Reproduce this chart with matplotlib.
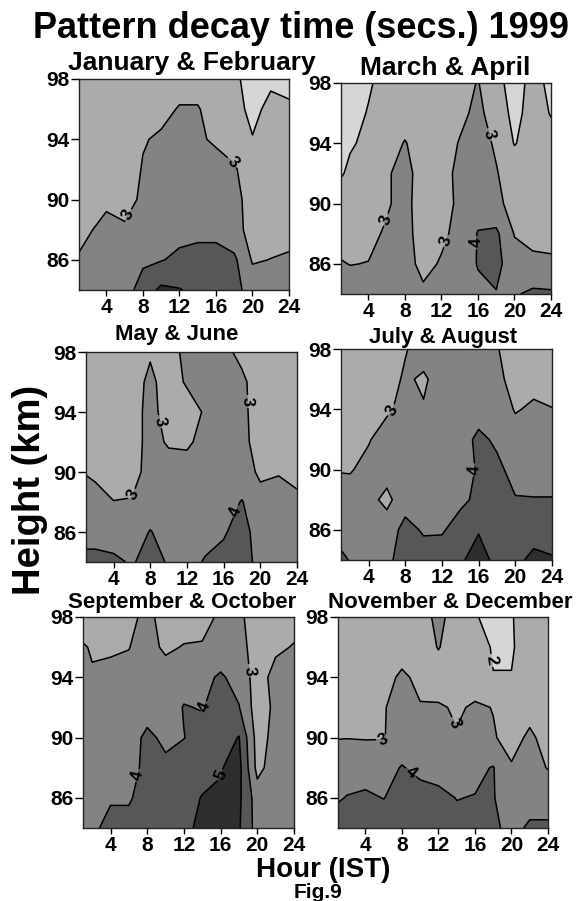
import numpy as np
import matplotlib
matplotlib.use("Agg")
import matplotlib.pyplot as plt

plt.rcParams['font.family'] = ['Liberation Sans', 'DejaVu Sans']
plt.rcParams['font.weight'] = 'bold'

hours = [1, 2, 4, 6, 8, 10, 12, 14, 16, 18, 20, 22, 24]
heights = [84, 86, 88, 90, 92, 94, 96, 98]

# pattern decay time (secs.), one row per height, lowest height first
jan_feb = [
    [3.5, 3.5, 3.5, 3.5, 4.5, 5.2, 5.05, 4.8, 4.6, 4.3, 3.6, 3.5, 3.4],
    [3.1, 3.3, 3.4, 3.4, 3.8, 3.95, 4.2, 4.4, 4.4, 4.2, 2.9, 3.02, 3.15],
    [2.7, 2.9, 3.3, 3.15, 3.5, 3.6, 3.7, 3.7, 3.7, 3.3, 2.7, 2.6, 2.6],
    [2.6, 2.6, 2.8, 2.6, 3.2, 3.5, 3.5, 3.5, 3.5, 3.3, 2.6, 2.5, 2.5],
    [2.5, 2.5, 2.5, 2.6, 3.05, 3.4, 3.5, 3.5, 3.4, 3.1, 2.5, 2.4, 2.3],
    [2.4, 2.4, 2.4, 2.5, 2.95, 3.1, 3.3, 3.15, 2.85, 2.6, 2.05, 2.1, 2.2],
    [2.4, 2.4, 2.4, 2.5, 2.7, 2.8, 3.05, 3.05, 2.7, 2.4, 1.7, 2.3, 2.1],
    [2.4, 2.4, 2.4, 2.5, 2.6, 2.7, 2.7, 2.7, 2.5, 2.2, 1.6, 1.8, 1.8],
]
mar_apr = [
    [3.4, 3.4, 3.5, 3.6, 3.6, 3.2, 3.5, 3.5, 3.8, 3.95, 3.9, 4.2, 4.15],
    [3.05, 2.98, 3.02, 3.3, 3.4, 2.7, 3.1, 3.5, 4.05, 4.3, 3.4, 3.15, 3.1],
    [2.7, 2.7, 2.8, 3.1, 3.3, 2.6, 2.8, 3.3, 4.05, 4.2, 2.95, 2.8, 2.8],
    [2.6, 2.6, 2.6, 2.9, 3.3, 2.5, 2.6, 3.2, 3.6, 3.2, 2.7, 2.6, 2.6],
    [1.9, 2.2, 2.5, 2.9, 3.3, 2.6, 2.7, 3.2, 3.5, 3.05, 2.6, 2.5, 2.4],
    [1.7, 1.9, 2.2, 2.6, 3.05, 2.6, 2.6, 3.05, 3.3, 2.9, 1.95, 2.4, 2.3],
    [1.6, 1.7, 2.05, 2.5, 2.6, 2.6, 2.6, 2.8, 3.2, 2.6, 1.7, 2.4, 1.95],
    [1.5, 1.6, 1.9, 2.3, 2.5, 2.5, 2.5, 2.6, 3.05, 2.3, 1.6, 2.3, 1.8],
]
may_jun = [
    [4.3, 4.3, 4.2, 3.9, 4.4, 3.9, 3.6, 4.1, 4.3, 4.4, 3.7, 3.6, 3.6],
    [3.6, 3.6, 3.5, 3.5, 4.05, 3.6, 3.5, 3.6, 3.9, 4.4, 3.5, 3.5, 3.5],
    [3.4, 3.3, 3.02, 3.05, 3.4, 3.5, 3.5, 3.5, 3.6, 4.05, 3.3, 3.2, 3.15],
    [2.95, 2.85, 2.6, 2.7, 3.3, 3.4, 3.4, 3.5, 3.5, 3.4, 2.85, 2.97, 2.8],
    [2.5, 2.5, 2.5, 2.6, 3.3, 2.9, 2.85, 3.3, 3.5, 3.2, 2.7, 2.6, 2.6],
    [2.4, 2.4, 2.5, 2.6, 3.3, 2.6, 2.6, 3.1, 3.5, 3.2, 2.6, 2.5, 2.5],
    [2.4, 2.4, 2.5, 2.6, 3.2, 2.6, 3.1, 3.3, 3.5, 3.15, 2.6, 2.5, 2.5],
    [2.4, 2.4, 2.5, 2.6, 2.9, 2.7, 3.2, 3.4, 3.2, 2.8, 2.5, 2.5, 2.5],
]
jul_aug = [
    [4.2, 3.95, 3.7, 3.8, 4.4, 4.4, 4.5, 4.9, 5.3, 4.8, 4.7, 5.3, 5.1],
    [3.6, 3.5, 3.4, 3.5, 4.3, 3.9, 3.9, 4.4, 4.95, 4.6, 4.5, 4.5, 4.5],
    [3.4, 3.3, 3.3, 2.75, 3.6, 3.5, 3.6, 3.8, 4.2, 4.3, 4.05, 4.02, 4.03],
    [2.95, 2.95, 3.2, 3.4, 3.5, 3.5, 3.5, 3.6, 4.1, 4.2, 3.7, 3.8, 3.7],
    [2.5, 2.8, 2.95, 3.3, 3.4, 3.5, 3.5, 3.6, 4.2, 3.85, 3.3, 3.3, 3.3],
    [2.4, 2.5, 2.6, 2.9, 3.2, 3.05, 3.4, 3.5, 3.6, 3.4, 2.95, 3.1, 3.02],
    [2.4, 2.4, 2.4, 2.7, 3.1, 2.9, 3.3, 3.4, 3.4, 3.2, 2.7, 2.8, 2.7],
    [2.3, 2.3, 2.4, 2.6, 2.95, 3.3, 3.4, 3.4, 3.3, 3.05, 2.6, 2.6, 2.6],
]
sep_oct = [
    [3.6, 3.8, 4.3, 4.3, 4.5, 4.5, 4.7, 5.3, 5.4, 5.1, 3.6, 3.7, 3.7],
    [3.5, 3.6, 3.9, 3.9, 4.4, 4.5, 4.6, 5.05, 5.1, 5.2, 3.5, 3.6, 3.6],
    [3.4, 3.4, 3.5, 3.6, 4.3, 4.2, 4.4, 4.6, 4.95, 5.3, 2.7, 3.5, 3.5],
    [3.4, 3.4, 3.5, 3.6, 4.2, 3.8, 3.98, 4.3, 4.5, 5.05, 2.6, 3.3, 3.3],
    [3.3, 3.3, 3.4, 3.4, 3.6, 3.5, 4.05, 3.95, 4.4, 4.05, 2.5, 3.2, 3.2],
    [3.2, 3.05, 3.1, 3.2, 3.4, 3.4, 3.6, 3.7, 4.15, 3.6, 2.6, 3.3, 3.1],
    [3.05, 2.95, 2.95, 2.98, 3.3, 2.85, 3.05, 3.1, 3.3, 3.4, 2.5, 2.85, 3.05],
    [2.7, 2.7, 2.6, 2.8, 3.2, 2.7, 2.6, 2.6, 3.2, 3.2, 2.5, 2.6, 2.7],
]
nov_dec = [
    [4.5, 4.5, 4.5, 4.5, 4.5, 4.5, 4.3, 4.2, 4.5, 4.2, 3.7, 4.15, 4.15],
    [3.9, 4.05, 4.15, 3.98, 4.3, 4.3, 4.2, 3.98, 4.03, 4.05, 3.5, 3.6, 3.6],
    [3.5, 3.5, 3.6, 3.7, 4.05, 3.8, 3.7, 3.6, 3.8, 4.05, 3.05, 3.4, 2.95],
    [2.97, 2.98, 2.95, 2.95, 3.5, 3.5, 3.3, 3.05, 3.4, 3.05, 2.8, 3.1, 2.8],
    [2.8, 2.8, 2.8, 2.95, 3.3, 3.05, 3.1, 2.9, 3.1, 2.98, 2.6, 2.8, 2.6],
    [2.6, 2.6, 2.6, 2.7, 3.15, 2.8, 2.5, 2.5, 2.6, 2.03, 2.03, 2.5, 2.5],
    [2.5, 2.5, 2.5, 2.5, 2.6, 2.5, 3.05, 2.5, 2.5, 1.9, 1.9, 2.5, 2.5],
    [2.5, 2.5, 2.5, 2.5, 2.5, 2.5, 3.3, 2.5, 2.1, 1.6, 1.95, 2.4, 2.5],
]

panels = [jan_feb, mar_apr, may_jun, jul_aug, sep_oct, nov_dec]
panel_titles = ["January & February", "March & April", "May & June",
                "July & August", "September & October", "November & December"]
x_ticks = [4, 8, 12, 16, 20, 24]
y_ticks = [86, 90, 94, 98]
fill_levels = [0, 2, 3, 4, 5, 6]
line_levels = [2, 3, 4, 5]
greys = ['#d6d6d6', '#ababab', '#838383', '#575757', '#2e2e2e']

# layout in pixels of the 581x901 page: axes boxes (left, top, right, bottom)
W, H = 581, 901
boxes = [(79, 79, 289, 290), (341, 83, 551, 294),
         (86, 352, 297, 562), (341, 349, 552, 560),
         (83, 617, 294, 828), (338, 617, 548, 828)]
# panel title anchors (centre x, baseline y, size)
title_spots = [(192, 70, 19), (445, 75, 19), (177, 340, 16),
               (443, 343, 16), (182, 608, 16), (450, 608, 16)]
# where the contour values are written on each panel (hour, height)
label_spots = [
    [(7.5, 88.6), (18.0, 92.6)],
    [(6.0, 88.9), (13.0, 87.4), (17.4, 94.6), (16.6, 87.4)],
    [(6.4, 88.4), (9.5, 93.4), (18.7, 94.7), (17.2, 87.4)],
    [(6.4, 94.0), (15.4, 90.0)],
    [(18.5, 94.4), (15.0, 91.8), (7.6, 87.4), (16.6, 87.4)],
    [(5.9, 89.9), (13.6, 90.9), (18.8, 95.2), (9.3, 87.9)],
]

fig = plt.figure(figsize=(W / 100, H / 100), dpi=100)

for z, title, box, tspot, lspots in zip(panels, panel_titles, boxes,
                                         title_spots, label_spots):
    left, top, right, bottom = box
    ax = fig.add_axes([left / W, 1 - bottom / H, (right - left) / W, (bottom - top) / H])
    z = np.array(z)
    ax.contourf(hours, heights, z, levels=fill_levels, colors=greys)
    cs = ax.contour(hours, heights, z, levels=line_levels, colors='black',
                    linewidths=1.1)
    labels = ax.clabel(cs, fmt='%d', manual=lspots, inline=True,
                       fontsize=12, inline_spacing=2)
    for t in labels:
        t.set_fontweight('heavy')
    ax.set_xlim(1, 24)
    ax.set_ylim(84, 98)
    ax.set_xticks(x_ticks)
    ax.set_yticks(y_ticks)
    ax.tick_params(axis='y', length=6, width=1, pad=0.5, labelsize=15)
    ax.tick_params(axis='x', length=4, width=1, pad=2, labelsize=15)
    for s in ax.spines.values():
        s.set_linewidth(1.0)
        s.set_color('#222222')
    fig.text(tspot[0] / W, 1 - tspot[1] / H, title, ha='center',
             va='baseline', fontsize=tspot[2], fontweight='bold')

fig.text(301 / W, 1 - 38 / H, "Pattern decay time (secs.) 1999", ha='center',
         va='baseline', fontsize=26, fontweight='bold')
fig.text(30 / W, 1 - 490 / H, "Height (km)", ha='center', va='center',
         rotation=90, fontsize=27.5, fontweight='bold')
fig.text(323 / W, 1 - 877 / H, "Hour (IST)", ha='center', va='baseline',
         fontsize=20, fontweight='bold')
fig.text(318 / W, 1 - 898 / H, "Fig.9", ha='center', va='baseline',
         fontsize=15, fontweight='bold')

fig.savefig("out.png", dpi=100)
